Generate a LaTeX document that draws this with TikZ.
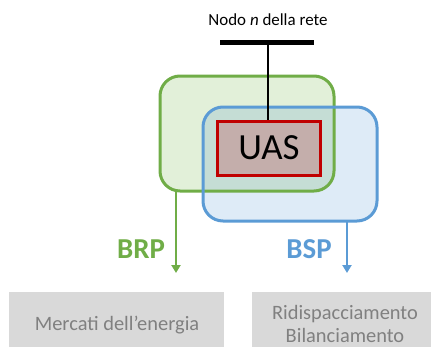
\documentclass[tikz,border=0pt]{standalone}
\usepackage{fontspec}
\setmainfont{Carlito}
\usetikzlibrary{arrows.meta}
\definecolor{grn}{HTML}{70AD47}
\definecolor{grnfill}{HTML}{E2F0D9}
\definecolor{blu}{HTML}{5B9BD5}
\definecolor{blufill}{HTML}{DEEBF7}
\definecolor{overlapfill}{HTML}{C5DDD5}
\definecolor{uasred}{HTML}{C00000}
\definecolor{uasfill}{HTML}{C4AEAB}
\definecolor{graybox}{HTML}{D9D9D9}
\definecolor{graytext}{HTML}{808080}
\tikzset{
  roleline/.style={line width=3bp},
  rolearrow/.style={line width=2.5bp,-{Triangle[length=8bp,width=9bp]}},
  marketbox/.style={fill=graybox,draw=none,inner sep=0pt},
  markettext/.style={text=graytext,align=center,font=\fontsize{20.5}{24}\selectfont},
  rolelabel/.style={font=\fontsize{29}{32}\selectfont\bfseries},
}
\begin{document}
\begin{tikzpicture}[x=1bp,y=-1bp]
\useasboundingbox (0,0) rectangle (431,347);
% title
\node[font=\fontsize{17}{20}\selectfont] (title) at (268,20) {Nodo \textit{n} della rete};
% bus bar
\coordinate (busL) at (220,42);
\coordinate (busR) at (314,42);
\coordinate (busM) at (268,42);
\draw[line width=5bp] (busL) -- (busR);
% role boxes
\def\grnpath{(160,76) rectangle (334,191)}
\def\blupath{(203,107) rectangle (377,221)}
\fill[grnfill,rounded corners=20bp] \grnpath;
\fill[blufill,rounded corners=20bp] \blupath;
\begin{scope}
  \clip[rounded corners=20bp] \grnpath;
  \fill[overlapfill,rounded corners=20bp] \blupath;
\end{scope}
\draw[roleline,draw=grn,rounded corners=20bp] \grnpath;
\draw[roleline,draw=blu,rounded corners=20bp] \blupath;
\node (grnbox) at (247,133.5) [minimum width=174bp,minimum height=115bp,inner sep=0pt] {};
\node (blubox) at (290,164) [minimum width=174bp,minimum height=114bp,inner sep=0pt] {};
% UAS
\node[draw=uasred,line width=3bp,fill=uasfill,minimum width=102bp,minimum height=54bp,inner sep=0pt,font=\fontsize{37}{40}\selectfont] (uas) at (269,148) {UAS};
\draw[line width=1.5bp] (busM) -- (busM |- uas.north);
% arrows
\coordinate (gstart) at (176,191);
\coordinate (gend) at (176,273);
\coordinate (bstart) at (347,221);
\coordinate (bend) at (347,273);
\draw[rolearrow,draw=grn,color=grn] (gstart) -- (gend);
\draw[rolearrow,draw=blu,color=blu] (bstart) -- (bend);
\node[rolelabel,text=grn] (brp) at (141,249) {BRP};
\node[rolelabel,text=blu] (bsp) at (309,249) {BSP};
% market boxes
\node[marketbox,minimum width=215bp,minimum height=60bp] (mercati) at (116.5,322) {};
\node[markettext] (mtext) at (117,325) {Mercati dell’energia};
\node[marketbox,minimum width=180bp,minimum height=60bp] (ridisp) at (342,322) {};
\node[markettext] (rtext) at (345,324) {Ridispacciamento\\Bilanciamento};
\end{tikzpicture}
\end{document}
